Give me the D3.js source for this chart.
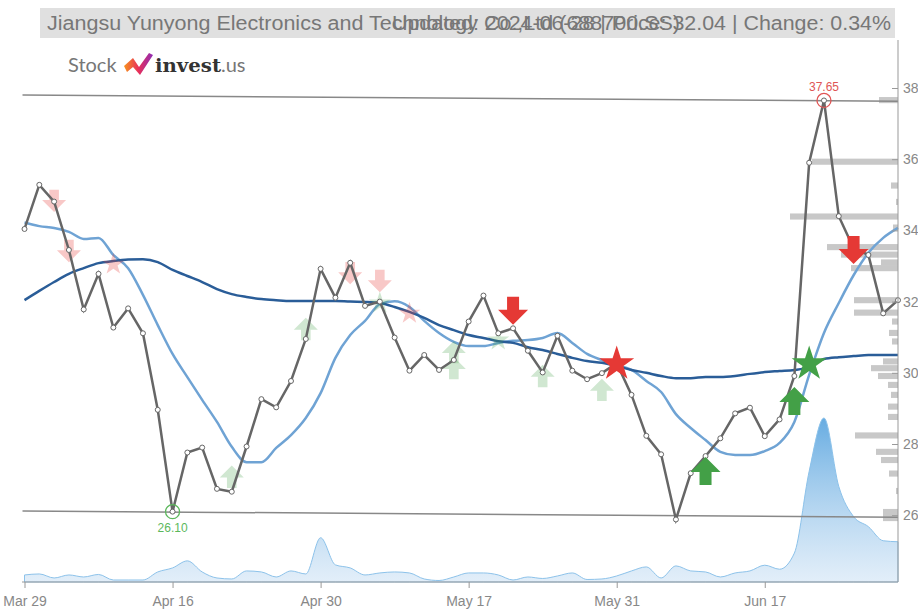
<!DOCTYPE html>
<html><head><meta charset="utf-8">
<script src="https://cdn.jsdelivr.net/npm/d3@7"></script>
<style>body{margin:0;background:#fff}svg{display:block}</style>
</head><body>
<svg id="c" width="918" height="610"></svg>
<script>
const dates = ["Mar 29","Apr 1","Apr 2","Apr 3","Apr 8","Apr 9","Apr 10","Apr 11","Apr 12","Apr 15","Apr 16","Apr 17","Apr 18","Apr 19","Apr 22","Apr 23","Apr 24","Apr 25","Apr 26","Apr 29","Apr 30","May 6","May 7","May 8","May 9","May 10","May 13","May 14","May 15","May 16","May 17","May 20","May 21","May 22","May 23","May 24","May 27","May 28","May 29","May 30","May 31","Jun 3","Jun 4","Jun 5","Jun 6","Jun 7","Jun 11","Jun 12","Jun 13","Jun 14","Jun 17","Jun 18","Jun 19","Jun 20","Jun 21","Jun 24","Jun 25","Jun 26","Jun 27","Jun 28"];
const close = [34.04,35.28,34.81,33.45,31.78,32.78,31.27,31.81,31.11,28.96,26.10,27.76,27.90,26.74,26.66,27.93,29.26,29.03,29.77,30.95,32.92,32.11,33.09,31.88,32.00,30.99,30.06,30.50,30.08,30.36,31.44,32.17,31.11,31.25,30.62,30.01,31.04,30.06,29.82,29.99,30.27,29.38,28.23,27.71,25.88,27.18,27.66,28.16,28.86,29.02,28.22,28.69,29.91,35.90,37.65,34.40,33.50,33.31,31.67,32.04];
const maShort = [34.22,34.12,34.07,33.96,33.76,33.79,33.31,32.94,32.19,31.34,30.53,29.88,29.24,28.62,27.92,27.49,27.49,27.89,28.25,28.73,29.43,30.42,31.06,31.46,31.93,32.01,31.85,31.46,31.12,30.87,30.75,30.75,30.84,30.90,30.92,30.98,31.12,30.84,30.53,30.36,30.22,30.08,29.77,29.46,28.84,28.45,28.11,27.78,27.69,27.69,27.80,28.03,28.62,29.94,31.12,31.96,32.74,33.37,33.79,34.07];
const maLong = [32.04,32.30,32.55,32.78,32.94,33.08,33.14,33.18,33.19,33.11,32.89,32.72,32.55,32.35,32.21,32.13,32.07,32.04,32.02,32.02,32.02,32.02,32.00,31.99,31.96,31.85,31.71,31.54,31.34,31.20,31.06,30.98,30.89,30.84,30.72,30.64,30.53,30.42,30.33,30.28,30.19,30.08,30.00,29.91,29.85,29.85,29.88,29.88,29.91,29.97,30.02,30.05,30.08,30.16,30.39,30.44,30.47,30.50,30.50,30.50];
const volume = [7,8,4,7,5,7.5,2,2,2,10,14,21,10,4,3,11,10,5,11,8,44,17,14,7,9,10,9,3,1.5,5,9,9,7,2,5,3.5,6,9,2.5,3,6,11,15,4,16,11,10,5,9,11,16.7,12.7,28.7,110,163,95,65,55,41,40];
const tickIdx = [0,10,20,30,40,50];
const tickLabels = ["Mar 29","Apr 16","Apr 30","May 17","May 31","Jun 17"];
const yTicks = [26,28,30,32,34,36,38];
const profilePrice = [37.66,35.93,35.26,34.80,34.39,34.08,33.53,33.32,33.10,32.94,32.04,31.69,31.44,31.12,30.88,30.32,30.13,29.91,29.66,29.38,29.05,28.76,28.24,27.78,27.55,27.17,26.68,26.09,25.92];
const profileVol = [19,86,7,2,108,5,71,57,17,47,44,44,6,9,6,15,27,20,10,7,10,10,43,22,17,9,2,15,15];
const trendTop = [[0,37.80],[59,37.63]];
const trendBottom = [[0,26.12],[59,25.94]];
const lowPoint = {i:10, v:26.10, label:"26.10"};
const highPoint = {i:54, v:37.65, label:"37.65"};
const sigDownFaded = [[2,34.83],[3,33.42],[22,32.80],[24,32.58]];
const sigStarRedFaded = [[6,33.05],[26,31.67]];
const sigUpFaded = [[14,27.08],[19,31.23],[29,30.58],[29,30.13],[35,29.91],[39,29.52]];
const sigStarGreenFaded = [[24,31.96],[32,30.92]];
const sigDown = [[33,31.74],[56,33.45]];
const sigUp = [[46,27.24],[52,29.21]];
const sigStarRed = [[40,30.25]];
const sigStarGreen = [[53,30.25]];
const titleLeft = "Jiangsu Yunyong Electronics and Technology Co.,Ltd (688700.SS)";
const titleRight = "Updated: 2024-06-28 | Price: 32.04 | Change: 0.34%";

const svg = d3.select("#c");
const defs = svg.append("defs");
const x = d3.scaleLinear().domain([0,59]).range([24.5,898]);
const y = d3.scaleLinear().domain([26,38]).range([515.2,88]);
const vy = d3.scaleLinear().domain([0,163]).range([582,418]);
const pw = d3.scaleLinear().domain([0,100]).range([0,100]);
const FONT = "Liberation Sans, Arial, sans-serif";

// title bar
svg.append("rect").attr("x",40).attr("y",8).attr("width",855).attr("height",30).attr("fill","#e0e0e0");
svg.append("text").attr("x",47).attr("y",30).attr("font-family",FONT).attr("font-size",20).attr("fill","#777")
  .attr("textLength",633).attr("lengthAdjust","spacingAndGlyphs").text(titleLeft);
svg.append("text").attr("x",392).attr("y",30).attr("font-family",FONT).attr("font-size",20).attr("fill","#777")
  .attr("textLength",499).attr("lengthAdjust","spacingAndGlyphs").text(titleRight);

// logo
const logo = svg.append("g");
logo.append("text").attr("x",68).attr("y",72).attr("font-family","Lato, sans-serif").attr("font-size",20).attr("fill","#777").text("Stock");
const lg = defs.append("linearGradient").attr("id","lg").attr("x1",0).attr("x2",1).attr("y1",0).attr("y2",0);
lg.append("stop").attr("offset","0").attr("stop-color","#f7931e");
lg.append("stop").attr("offset","0.5").attr("stop-color","#e8305a");
lg.append("stop").attr("offset","1").attr("stop-color","#8e2bb5");
logo.append("path").attr("d","M124,66 L133,58 L139,67 L149,53 L153,55 L140,75 L133,67 L127,72 Z").attr("fill","url(#lg)");
const lt = logo.append("text").attr("x",155).attr("y",72).attr("font-size",19);
lt.append("tspan").attr("font-family","DejaVu Serif, serif").attr("font-weight","bold").attr("fill","#333").attr("textLength",66).attr("lengthAdjust","spacingAndGlyphs").text("invest");
lt.append("tspan").attr("font-family","Lato, sans-serif").attr("font-size",20).attr("fill","#777").text(".us");

// volume gradient
const vg = defs.append("linearGradient").attr("id","vg").attr("gradientUnits","userSpaceOnUse").attr("x1",0).attr("x2",0).attr("y1",418).attr("y2",582);
vg.append("stop").attr("offset","0").attr("stop-color","#5fa8e0").attr("stop-opacity",0.95);
vg.append("stop").attr("offset","1").attr("stop-color","#cfe3f5").attr("stop-opacity",0.6);

// volume profile
svg.append("g").selectAll("rect").data(profilePrice).join("rect")
  .attr("x",(d,i)=>898-pw(profileVol[i])).attr("y",d=>y(d+0.1)+0.5)
  .attr("width",(d,i)=>pw(profileVol[i])).attr("height",d=>y(d-0.1)-y(d+0.1)-1)
  .attr("fill","#c8c8c8");

// volume area
const idx = d3.range(60);
svg.append("path").datum(idx).attr("fill","url(#vg)").attr("stroke","#8cc2ea").attr("stroke-width",1)
  .attr("d",d3.area().x(i=>x(i)).y0(582).y1(i=>vy(volume[i])).curve(d3.curveMonotoneX));

// trend lines
[trendTop,trendBottom].forEach(t=>{
  svg.append("line").attr("x1",x(t[0][0])-2).attr("y1",y(t[0][1])).attr("x2",x(t[1][0])).attr("y2",y(t[1][1]))
    .attr("stroke","#888").attr("stroke-width",1.5);
});

// MAs
svg.append("path").datum(idx).attr("fill","none").attr("stroke","#6fa3d4").attr("stroke-width",2.5)
  .attr("d",d3.line().x(i=>x(i)).y(i=>y(maShort[i])).curve(d3.curveMonotoneX));
svg.append("path").datum(idx).attr("fill","none").attr("stroke","#2a5d98").attr("stroke-width",2.5)
  .attr("d",d3.line().x(i=>x(i)).y(i=>y(maLong[i])).curve(d3.curveMonotoneX));

// signal shapes
const arrowDown = "M-6,-14 L6,-14 L6,-1 L15,-1 L0,14 L-15,-1 L-6,-1 Z";
const arrowUp = "M-6,14 L6,14 L6,1 L15,1 L0,-14 L-15,1 L-6,1 Z";
const starBig = d3.symbol().type(d3.symbolStar).size(380)();
const starSmall = d3.symbol().type(d3.symbolStar).size(150)();
function drawSig(list, path, color, op, s){
  svg.append("g").selectAll("path").data(list).join("path")
    .attr("d",path).attr("transform",d=>`translate(${x(d[0])},${y(d[1])}) scale(${s})`)
    .attr("fill",color).attr("opacity",op);
}
drawSig(sigDownFaded, arrowDown, "#e53935", 0.28, 0.8);
drawSig(sigStarRedFaded, starSmall, "#e53935", 0.28, 1);
drawSig(sigUpFaded, arrowUp, "#43a047", 0.25, 0.8);
drawSig(sigStarGreenFaded, starSmall, "#43a047", 0.25, 1);

// price line
svg.append("path").datum(idx).attr("fill","none").attr("stroke","#666").attr("stroke-width",2.5)
  .attr("d",d3.line().x(i=>x(i)).y(i=>y(close[i])));
svg.append("g").selectAll("circle").data(idx).join("circle")
  .attr("cx",i=>x(i)).attr("cy",i=>y(close[i])).attr("r",2.5).attr("fill","#fff").attr("stroke","#666").attr("stroke-width",1);

drawSig(sigDown, arrowDown, "#e53935", 1, 1);
drawSig(sigUp, arrowUp, "#43a047", 1, 1);
drawSig(sigStarRed, starBig, "#e53935", 1, 1);
drawSig(sigStarGreen, starBig, "#43a047", 1, 1);

// low / high markers
svg.append("circle").attr("cx",x(lowPoint.i)).attr("cy",y(lowPoint.v)).attr("r",7).attr("fill","none").attr("stroke","#5cb85c").attr("stroke-width",1.3);
svg.append("text").attr("x",x(lowPoint.i)).attr("y",y(lowPoint.v)+20).attr("text-anchor","middle").attr("font-family",FONT).attr("font-size",12).attr("fill","#5cb85c").text(lowPoint.label);
svg.append("circle").attr("cx",x(highPoint.i)).attr("cy",y(highPoint.v)).attr("r",7).attr("fill","none").attr("stroke","#e05555").attr("stroke-width",1.3);
svg.append("text").attr("x",x(highPoint.i)).attr("y",y(highPoint.v)-9).attr("text-anchor","middle").attr("font-family",FONT).attr("font-size",12).attr("fill","#e05555").text(highPoint.label);

// axes
const yAxis = d3.axisLeft(y).tickValues(yTicks).tickSize(6).tickFormat(d3.format("d"));
const gy = svg.append("g").attr("transform","translate(898,0)").call(yAxis);
gy.select(".domain").attr("d","M0,40V582").attr("stroke","#999");
gy.selectAll(".tick line").attr("stroke","#999");
gy.selectAll(".tick text").attr("x",5).attr("text-anchor","start").attr("fill","#888").attr("font-size",14).attr("font-family",FONT);

const xAxis = d3.axisBottom(x).tickValues(tickIdx).tickSize(6).tickFormat((d,i)=>tickLabels[i]);
const gx = svg.append("g").attr("transform","translate(0,582)").call(xAxis);
gx.select(".domain").attr("d","M22,0H898").attr("stroke","#999");
gx.selectAll(".tick line").attr("stroke","#999");
gx.selectAll(".tick text").attr("fill","#888").attr("font-size",14).attr("dy","1.05em").attr("font-family",FONT);
</script>
</body></html>
